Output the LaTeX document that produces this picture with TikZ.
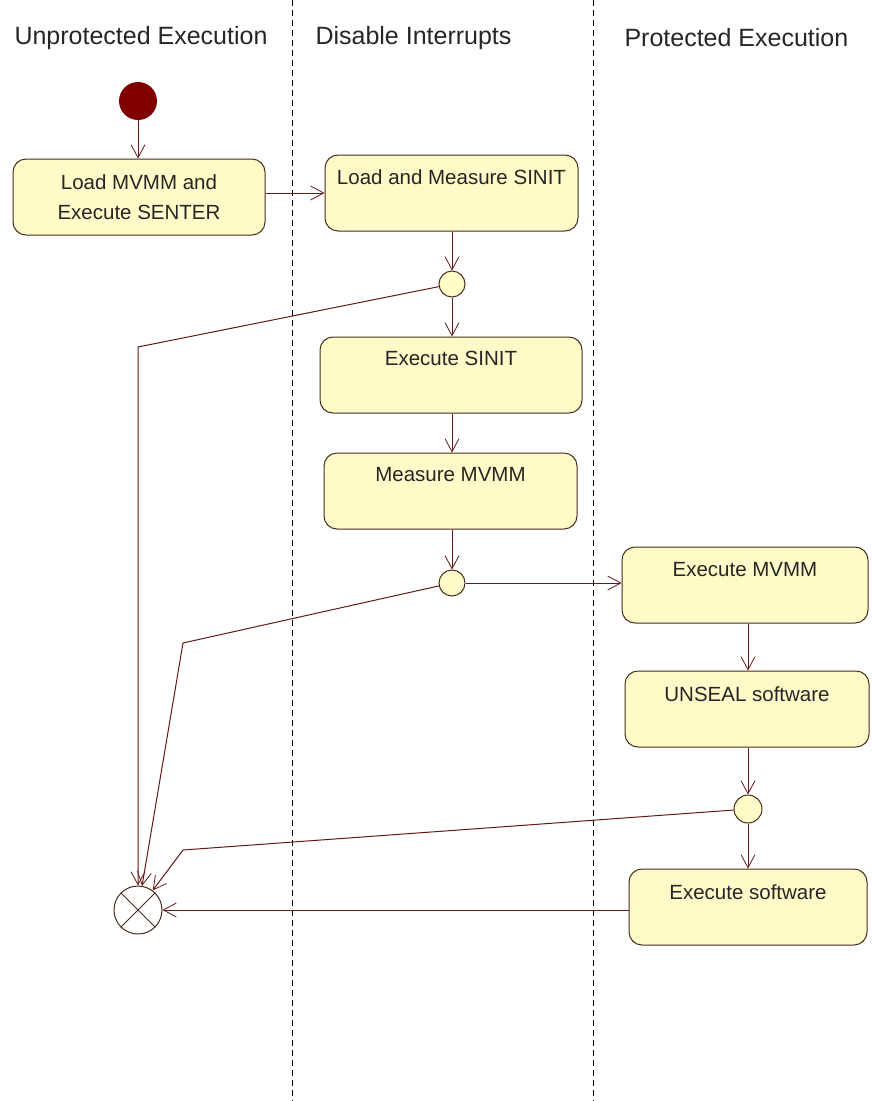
\documentclass[tikz,border=0pt]{standalone}
\usepackage{fontspec}
\setmainfont{Liberation Sans}
\usetikzlibrary{arrows.meta,calc}
\definecolor{boxfill}{RGB}{255,250,200}
\definecolor{boxline}{RGB}{70,45,30}
\definecolor{flowc}{RGB}{100,25,25}
\definecolor{initc}{RGB}{128,0,0}
\begin{document}
\begin{tikzpicture}[x=1pt,y=-1pt,
  lane/.style={draw=black,line width=0.8pt,dash pattern=on 6pt off 4pt},
  hdr/.style={anchor=west,font=\fontsize{25}{28}\selectfont,text=black!85},
  actbox/.style={draw=boxline,fill=boxfill,line width=1pt,rounded corners=13pt,inner sep=0pt},
  boxtxt/.style={font=\fontsize{20.5}{30}\selectfont,text=black!85,align=center,inner sep=0pt},
  decision/.style={circle,draw=boxline,fill=boxfill,line width=1pt,minimum size=26pt,inner sep=0pt},
  flow/.style={draw=flowc,line width=1pt,-{Straight Barb[length=13pt,width=14pt,line width=0.8pt]}},
  plain/.style={draw=flowc,line width=1pt}
]
\useasboundingbox (0,0) rectangle (872,1101);
\fill[white] (0,0) rectangle (872,1101);

% lanes
\coordinate (l1t) at (292,0); \coordinate (l1b) at (292,1101);
\coordinate (l2t) at (593,0); \coordinate (l2b) at (593,1101);
\draw[lane] (l1t) -- (l1b);
\draw[lane] (l2t) -- (l2b);

% headers
\node[hdr] (h1) at (11,38) {Unprotected Execution};
\node[hdr] (h2) at (312,38) {Disable Interrupts};
\node[hdr] (h3) at (621,38) {Protected Execution};

% initial node
\node[circle,fill=initc,minimum size=38pt,inner sep=0pt] (init) at (138,101) {};

% activities
\node[actbox,minimum width=252pt,minimum height=76pt] (b1) at (139,197) {};
\node[boxtxt] (t1) at (139,197) {Load MVMM and\\Execute SENTER};
\node[actbox,minimum width=253pt,minimum height=76pt] (b2) at (451.5,193) {};
\node[boxtxt] (t2) at (451.5,177) {Load and Measure SINIT};
\node[decision] (d1) at (452,284) {};
\node[actbox,minimum width=262pt,minimum height=76pt] (b3) at (451,375) {};
\node[boxtxt] (t3) at (451,358) {Execute SINIT};
\node[actbox,minimum width=253pt,minimum height=76pt] (b4) at (450.5,491) {};
\node[boxtxt] (t4) at (450.5,475) {Measure MVMM};
\node[decision] (d2) at (452,583) {};
\node[actbox,minimum width=246pt,minimum height=76pt] (b5) at (745,585) {};
\node[boxtxt] (t5) at (745,570) {Execute MVMM};
\node[actbox,minimum width=244pt,minimum height=76pt] (b6) at (747,709) {};
\node[boxtxt] (t6) at (747,694) {UNSEAL software};
\node[decision,minimum size=28pt] (d3) at (748,809) {};
\node[actbox,minimum width=238pt,minimum height=76pt] (b7) at (748,907) {};
\node[boxtxt] (t7) at (748,892) {Execute software};

% final node
\node[circle,draw=boxline,fill=white,line width=1pt,minimum size=48pt,inner sep=0pt] (fin) at (138,910) {};
\draw[boxline,line width=0.9pt] (fin.north west) -- (fin.south east);
\draw[boxline,line width=0.9pt] (fin.north east) -- (fin.south west);

% bend points
\coordinate (c1) at (138,347);
\coordinate (c2) at (183,643);
\coordinate (c3) at (183,850);

% flows
\draw[flow] (init) -- (init |- b1.north);
\draw[flow] (b2.west -| b1.east) -- (b2.west);
\draw[flow] (d1 |- b2.south) -- (d1);
\draw[flow] (d1) -- (d1 |- b3.north);
\draw[flow] (d1 |- b3.south) -- (d1 |- b4.north);
\draw[flow] (d2 |- b4.south) -- (d2);
\draw[flow] (d2) -- (d2 -| b5.west);
\draw[flow] (d3 |- b5.south) -- (d3 |- b6.north);
\draw[flow] (d3 |- b6.south) -- (d3);
\draw[flow] (d3) -- (d3 |- b7.north);
\draw[flow] (d1) -- (c1) -- (fin);
\draw[flow] (d2) -- (c2) -- (fin);
\draw[flow] (d3) -- (c3) -- (fin);
\draw[flow] (fin -| b7.west) -- (fin);
\end{tikzpicture}
\end{document}
